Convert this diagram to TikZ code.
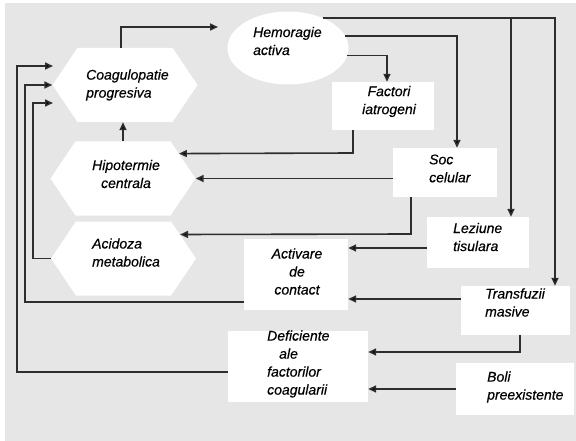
\documentclass[tikz,border=0pt]{standalone}
\usepackage{fontspec}
\setmainfont{Liberation Sans}[ItalicFeatures={FakeBold=0.4}]
\usetikzlibrary{shapes.geometric,shapes.symbols,arrows.meta,calc}
\definecolor{bgc}{HTML}{E6E6E6}
\definecolor{linec}{HTML}{2E2E2E}
\tikzset{
  whitebox/.style={fill=white, draw=none, inner sep=0pt, rectangle},
  hexa/.style={signal, signal to=east and west, signal pointer angle=112, fill=white, draw=none, inner sep=0pt, minimum width=145pt, minimum height=74pt},
  ell/.style={ellipse, fill=white, draw=none, inner sep=0pt, minimum width=121pt, minimum height=73pt},
  txt/.style={inner sep=0pt, font=\fontsize{14}{18}\selectfont\itshape, text=black},
  conn/.style={draw=linec, line width=1.6pt, -{Triangle[length=8pt,width=7pt,fill=black]}},
  plain/.style={draw=linec, line width=1.6pt}
}
\begin{document}
\begin{tikzpicture}[x=1pt,y=-1pt]
\useasboundingbox (0,0) rectangle (576,441);
\fill[bgc] (5,3) rectangle (576,441);
% shapes
\node[hexa] (coag) at (125,85) {};
\node[hexa] (hipo) at (123,178.5) {};
\node[hexa] (acid) at (123.5,258.5) {};
\node[ell] (hemo) at (288,48) {};
\node[whitebox, minimum width=102pt, minimum height=48pt] (fact) at (383,106) {};
\node[whitebox, minimum width=104pt, minimum height=49pt] (soc) at (445,172.5) {};
\node[whitebox, minimum width=102pt, minimum height=51pt] (lez) at (478,242.5) {};
\node[whitebox, minimum width=109pt, minimum height=49pt] (transf) at (515.5,310.5) {};
\node[whitebox, minimum width=118pt, minimum height=52pt] (boli) at (515,389) {};
\node[whitebox, minimum width=104pt, minimum height=71pt] (act) at (296,274.5) {};
\node[whitebox, minimum width=140pt, minimum height=71pt] (def) at (298,366.5) {};
% texts
\node[txt, anchor=west, align=left] (coagt) at (86,85) {Coagulopatie\\progresiva};
\node[txt, align=center] (hipot) at (126,174) {Hipotermie\\centrala};
\node[txt, anchor=west, align=left] (acidt) at (92,252.5) {Acidoza\\metabolica};
\node[txt, anchor=west, align=left] (hemot) at (253,41) {Hemoragie\\activa};
\node[txt, align=center] (factt) at (389,101.5) {Factori\\iatrogeni};
\node[txt, anchor=west, align=left] (soct) at (429,168.5) {Soc\\celular};
\node[txt, anchor=west, align=left] (lezt) at (453,237) {Leziune\\tisulara};
\node[txt, anchor=west, align=left] (transft) at (485,302.5) {Transfuzii\\masive};
\node[txt, anchor=west, align=left] (bolit) at (487,387) {Boli\\preexistente};
\node[txt, align=center] (actt) at (297,271.5) {Activare\\de\\contact};
\node[txt, anchor=west, align=left] (deft) at (267,364) {Deficiente\\\hspace*{12pt}ale\\factorilor\\coagularii};
% connectors
\coordinate (c1) at (218,27);
\draw[conn] ([xshift=-4pt]coag.north) |- (c1);
\coordinate (j1) at (511,18);
\draw[conn] (hemo.41) -| ([xshift=39.5pt]transf.north);
\draw[conn] (j1) -- (j1 |- lez.north);
\draw[conn] (hemo.12) -| ([xshift=12pt]soc.north);
\draw[conn] (hemo.-7) -| ([xshift=4pt]fact.north);
\coordinate (k1) at (353,153);
\draw[conn] ([xshift=-30pt]fact.south) -- (k1) -- (hipo.24);
\draw[conn] (soc.west |- hipo.east) -- (hipo.east);
\coordinate (k2) at (411,234);
\draw[conn] ([xshift=-34pt]soc.south) -- (k2) -- (acid.23);
\coordinate (l1) at (427,248);
\draw[conn] (l1) -- (l1 -| act.east);
\coordinate (l2) at (461,299);
\draw[conn] (l2) -- (l2 -| act.east);
\coordinate (k3) at (520,352);
\draw[conn] ([xshift=4.5pt]transf.south) -- (k3) -- (k3 -| def.east);
\draw[conn] (boli.west) -- (boli.west -| def.east);
\draw[conn] (hipo.north) -- (hipo.north |- coag.south);
% left feedback loops
\coordinate (d1) at (228,372);
\draw[conn] (d1) -- (17,372) -- (17,66) -- (53,66);
\coordinate (a1) at (244,302);
\draw[conn] (a1) -- (25,302) -- (25,85) -- (coag.west);
\draw[conn] (acid.west) -- (33,258.5) -- (33,103) -- (53,103);
\end{tikzpicture}
\end{document}
